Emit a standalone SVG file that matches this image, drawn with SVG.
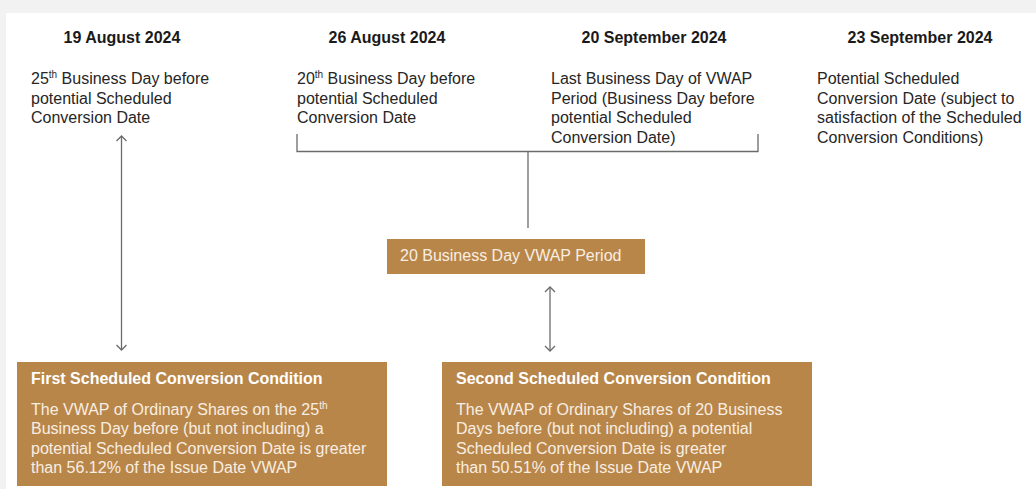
<svg xmlns="http://www.w3.org/2000/svg" width="1036" height="489" viewBox="0 0 1036 489">
<style>
.date{font-family:"Liberation Sans",Arial,sans-serif;font-size:16px;font-weight:bold;fill:#1a1a1a;text-anchor:middle}
.desc{font-family:"Liberation Sans",Arial,sans-serif;font-size:16px;fill:#262626}
.box{fill:#b98649}
.btitle{font-family:"Liberation Sans",Arial,sans-serif;font-size:16px;font-weight:bold;fill:#ffffff}
.btext{font-family:"Liberation Sans",Arial,sans-serif;font-size:16px;fill:#f8eee2}
.sup{font-size:10px}
.ln{fill:none;stroke:#6b6b6b;stroke-width:1.3}
</style>
<defs>
<marker id="chev" viewBox="0 0 12 12" refX="11" refY="6" markerWidth="12" markerHeight="12" markerUnits="userSpaceOnUse" orient="auto-start-reverse">
<path d="M6,1 L11,6 L6,11" fill="none" stroke="#6b6b6b" stroke-width="1.3"/>
</marker>
</defs>
<rect x="0" y="0" width="1036" height="489" fill="#f2f2f2"/>
<rect x="6" y="13" width="1030" height="476" fill="#ffffff"/>

<g id="col1">
<text class="date" x="122" y="43">19 August 2024</text>
<text class="desc" x="31" y="84">25<tspan class="sup" dy="-6">th</tspan><tspan dy="6"> Business Day before</tspan></text>
<text class="desc" x="31" y="104">potential Scheduled</text>
<text class="desc" x="31" y="123">Conversion Date</text>
</g>
<g id="col2">
<text class="date" x="387" y="43">26 August 2024</text>
<text class="desc" x="297" y="84">20<tspan class="sup" dy="-6">th</tspan><tspan dy="6"> Business Day before</tspan></text>
<text class="desc" x="297" y="104">potential Scheduled</text>
<text class="desc" x="297" y="123">Conversion Date</text>
</g>
<g id="col3">
<text class="date" x="654" y="43">20 September 2024</text>
<text class="desc" x="551" y="84">Last Business Day of VWAP</text>
<text class="desc" x="551" y="104">Period (Business Day before</text>
<text class="desc" x="551" y="123">potential Scheduled</text>
<text class="desc" x="551" y="143">Conversion Date)</text>
</g>
<g id="col4">
<text class="date" x="920" y="43">23 September 2024</text>
<text class="desc" x="817" y="84">Potential Scheduled</text>
<text class="desc" x="817" y="104">Conversion Date (subject to</text>
<text class="desc" x="817" y="123">satisfaction of the Scheduled</text>
<text class="desc" x="817" y="143">Conversion Conditions)</text>
</g>

<g id="connectors">
<path class="ln" d="M297,134 V151.5 H758 V134"/>
<path class="ln" d="M528,151.5 V228"/>
<path class="ln" d="M121.5,136 V350" marker-start="url(#chev)" marker-end="url(#chev)"/>
<path class="ln" d="M550,287 V351" marker-start="url(#chev)" marker-end="url(#chev)"/>
</g>

<g id="vwap">
<rect class="box" x="387" y="239" width="258" height="35"/>
<text class="btext" x="400" y="261">20 Business Day VWAP Period</text>
</g>

<g id="first">
<rect class="box" x="17" y="362" width="370" height="124"/>
<text class="btitle" x="31" y="384">First Scheduled Conversion Condition</text>
<text class="btext" x="31" y="415">The VWAP of Ordinary Shares on the 25<tspan class="sup" dy="-6">th</tspan></text>
<text class="btext" x="31" y="434">Business Day before (but not including) a</text>
<text class="btext" x="31" y="454">potential Scheduled Conversion Date is greater</text>
<text class="btext" x="31" y="473">than 56.12% of the Issue Date VWAP</text>
</g>

<g id="second">
<rect class="box" x="442" y="362" width="370" height="124"/>
<text class="btitle" x="456" y="384">Second Scheduled Conversion Condition</text>
<text class="btext" x="456" y="415">The VWAP of Ordinary Shares of 20 Business</text>
<text class="btext" x="456" y="434">Days before (but not including) a potential</text>
<text class="btext" x="456" y="454">Scheduled Conversion Date is greater</text>
<text class="btext" x="456" y="473">than 50.51% of the Issue Date VWAP</text>
</g>
</svg>
